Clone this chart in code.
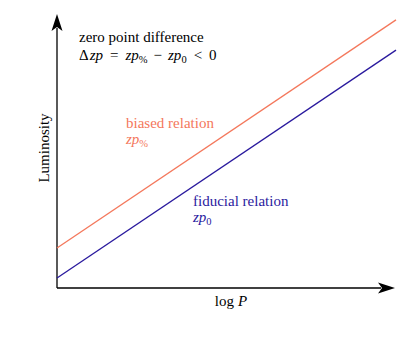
<!DOCTYPE html>
<html>
<head>
<meta charset="utf-8">
<script src="https://cdn.jsdelivr.net/npm/d3@7"></script>
<style>
  body { margin: 0; background: #fff; }
  text { font-family: "Liberation Serif", "DejaVu Serif", serif; }
</style>
</head>
<body>
<div id="chart"></div>
<script>
// two parallel period-luminosity relations (schematic, no ticks)
const logP = [0, 1];
const fiducial = [0.037, 0.881];
const biased = [0.148, 0.993];

const orange = "#f4785c",
  blue = "#2a1a9e";

const W = 415,
  H = 338;
const margin = { top: 18, right: 19, bottom: 50, left: 57 };

const svg = d3
  .select("#chart")
  .append("svg")
  .attr("width", W)
  .attr("height", H);

const x = d3
  .scaleLinear()
  .domain([0, 1])
  .range([margin.left, W - margin.right]);

const y = d3
  .scaleLinear()
  .domain([0, 1])
  .range([H - margin.bottom, margin.top]);

// axes with stealth arrowheads
const x0 = x(0),
  y0 = y(0);
const xEnd = x(1) - 1,
  yEnd = y(1) - 4;

svg
  .append("line")
  .attr("x1", x0)
  .attr("y1", y0)
  .attr("x2", xEnd - 14)
  .attr("y2", y0)
  .attr("stroke", "#000")
  .attr("stroke-width", 1.3);

svg
  .append("line")
  .attr("x1", x0)
  .attr("y1", y0)
  .attr("x2", x0)
  .attr("y2", yEnd + 14)
  .attr("stroke", "#000")
  .attr("stroke-width", 1.3);

// arrowhead x
svg
  .append("path")
  .attr(
    "d",
    `M${xEnd},${y0} L${xEnd - 17},${y0 - 5.5} L${xEnd - 13},${y0} L${xEnd - 17},${y0 + 5.5} Z`
  )
  .attr("fill", "#000");

// arrowhead y
svg
  .append("path")
  .attr(
    "d",
    `M${x0},${yEnd} L${x0 - 5.5},${yEnd + 17} L${x0},${yEnd + 13} L${x0 + 5.5},${yEnd + 17} Z`
  )
  .attr("fill", "#000");

// relations
const line = d3
  .line()
  .x((d, i) => x(logP[i]))
  .y(d => y(d));

svg
  .append("path")
  .datum(biased)
  .attr("d", line)
  .attr("fill", "none")
  .attr("stroke", orange)
  .attr("stroke-width", 1.3);

svg
  .append("path")
  .datum(fiducial)
  .attr("d", line)
  .attr("fill", "none")
  .attr("stroke", blue)
  .attr("stroke-width", 1.3);

// labels
const fs = 15;

function mathLabel(g, parts) {
  parts.forEach(p => {
    const t = g.append("tspan").text(p.t);
    if (p.i) t.attr("font-style", "italic");
    if (p.sub) t.attr("font-size", 10.5).attr("dy", 3);
    if (p.up) t.attr("dy", -3);
    if (p.dx) t.attr("dx", p.dx);
  });
}

svg
  .append("text")
  .attr("x", 79)
  .attr("y", 42)
  .attr("font-size", fs)
  .attr("fill", "#000")
  .text("zero point difference");

const eq = svg
  .append("text")
  .attr("x", 79)
  .attr("y", 60)
  .attr("font-size", fs)
  .attr("fill", "#000");
mathLabel(eq, [
  { t: "Δ" },
  { t: "zp", i: true, dx: 1 },
  { t: "=", dx: 7 },
  { t: "zp", i: true, dx: 7 },
  { t: "%", sub: true },
  { t: "−", up: true, dx: 6 },
  { t: "zp", i: true, dx: 6 },
  { t: "0", sub: true },
  { t: "<", up: true, dx: 7 },
  { t: "0", dx: 7 }
]);

svg
  .append("text")
  .attr("x", 126)
  .attr("y", 128)
  .attr("font-size", fs)
  .attr("fill", orange)
  .text("biased relation");

const zb = svg
  .append("text")
  .attr("x", 126)
  .attr("y", 144)
  .attr("font-size", fs)
  .attr("fill", orange);
mathLabel(zb, [{ t: "zp", i: true }, { t: "%", sub: true }]);

svg
  .append("text")
  .attr("x", 193)
  .attr("y", 206)
  .attr("font-size", fs)
  .attr("fill", blue)
  .text("fiducial relation");

const zf = svg
  .append("text")
  .attr("x", 193)
  .attr("y", 222)
  .attr("font-size", fs)
  .attr("fill", blue);
mathLabel(zf, [{ t: "zp", i: true }, { t: "0", sub: true }]);

// axis titles
const xt = svg
  .append("text")
  .attr("x", 231)
  .attr("y", 306)
  .attr("text-anchor", "middle")
  .attr("font-size", fs);
mathLabel(xt, [{ t: "log" }, { t: "P", i: true, dx: 4 }]);

svg
  .append("text")
  .attr("transform", "translate(49,148) rotate(-90)")
  .attr("text-anchor", "middle")
  .attr("font-size", fs)
  .text("Luminosity");
</script>
</body>
</html>
